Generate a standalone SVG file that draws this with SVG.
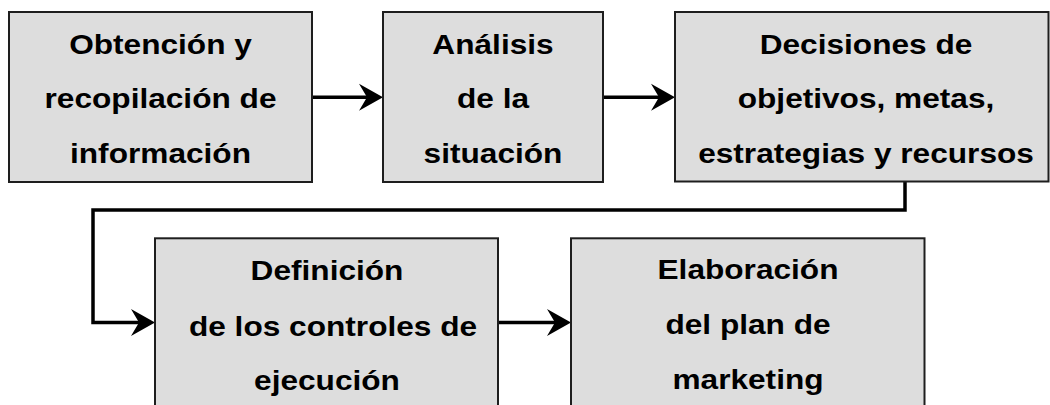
<svg xmlns="http://www.w3.org/2000/svg" width="1050" height="405" viewBox="0 0 1050 405">
<style>
.box{fill:#dddddd;stroke:#1e1e1e;stroke-width:2}
.lbl{font-family:"Liberation Sans",Arial,sans-serif;font-weight:bold;font-size:28.5px;fill:#000;text-anchor:middle}
.con{fill:none;stroke:#000;stroke-width:3.5;stroke-linejoin:miter}
</style>
<defs>
<marker id="arr" viewBox="-25 -14 26 28" refX="-4" refY="0" markerWidth="26" markerHeight="28" markerUnits="userSpaceOnUse" orient="auto">
<path d="M0,0 L-24,-13.5 L-16,0 L-24,13.5 Z" fill="#000"/>
</marker>
</defs>
<rect width="1050" height="405" fill="#fff"/>
<g id="connectors">
<path class="con" d="M312 97.3 H379" marker-end="url(#arr)"/>
<path class="con" d="M603 97.3 H671" marker-end="url(#arr)"/>
<path class="con" d="M905 181 V210 H93 V322.5 H151" marker-end="url(#arr)"/>
<path class="con" d="M498 322.5 H567" marker-end="url(#arr)"/>
</g>
<g id="node1">
<rect class="box" x="9" y="12" width="303" height="170"/>
<text class="lbl" transform="translate(160.5 53.5) scale(1.11 1)">Obtención y</text>
<text class="lbl" transform="translate(160.5 108) scale(1.11 1)">recopilación de</text>
<text class="lbl" transform="translate(160.5 162.7) scale(1.11 1)">información</text>
</g>
<g id="node2">
<rect class="box" x="383" y="12" width="220" height="170"/>
<text class="lbl" transform="translate(493 53.5) scale(1.11 1)">Análisis</text>
<text class="lbl" transform="translate(493 108) scale(1.11 1)">de la</text>
<text class="lbl" transform="translate(493 162.7) scale(1.11 1)">situación</text>
</g>
<g id="node3">
<rect class="box" x="675" y="12" width="373.5" height="169.5"/>
<text class="lbl" transform="translate(866 53.5) scale(1.11 1)">Decisiones de</text>
<text class="lbl" transform="translate(866 108) scale(1.11 1)">objetivos, metas,</text>
<text class="lbl" transform="translate(866 162.7) scale(1.11 1)">estrategias y recursos</text>
</g>
<g id="node4">
<rect class="box" x="155" y="238.3" width="343" height="200"/>
<text class="lbl" transform="translate(327 279.5) scale(1.11 1)">Definición</text>
<text class="lbl" transform="translate(333 335.5) scale(1.11 1)">de los controles de</text>
<text class="lbl" transform="translate(327 390) scale(1.11 1)">ejecución</text>
</g>
<g id="node5">
<rect class="box" x="571" y="238.3" width="353.5" height="200"/>
<text class="lbl" transform="translate(748 279) scale(1.11 1)">Elaboración</text>
<text class="lbl" transform="translate(748 333.5) scale(1.11 1)">del plan de</text>
<text class="lbl" transform="translate(748 388.5) scale(1.11 1)">marketing</text>
</g>
</svg>
